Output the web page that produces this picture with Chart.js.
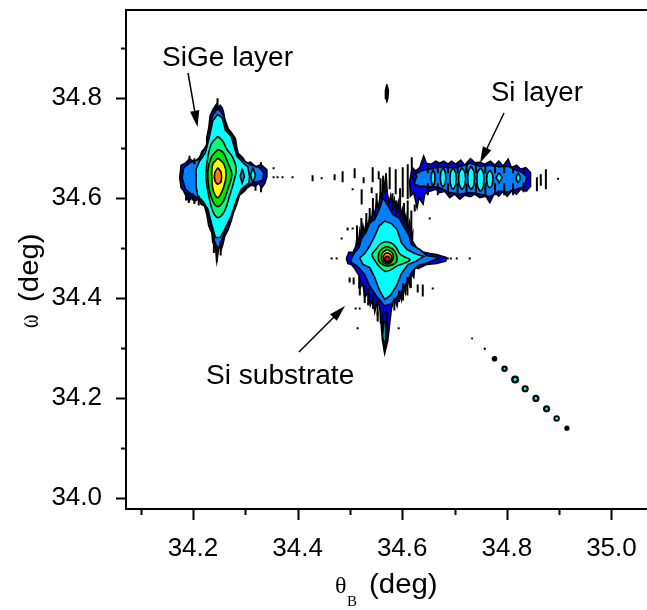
<!DOCTYPE html>
<html>
<head>
<meta charset="utf-8">
<title>SiGe map</title>
<script src="https://cdn.jsdelivr.net/npm/chart.js@4"></script>
<style>
    html, body { margin: 0; padding: 0; background: #fff; }
    canvas { display: block; }
</style>
</head>
<body>
<canvas id="mapChart" width="647" height="610"></canvas>
<script>
// Tick values
const xMajor = [34.2, 34.4, 34.6, 34.8, 35.0];
const xMinor = [34.1, 34.3, 34.5, 34.7, 34.9];
const yMajor = [34.0, 34.2, 34.4, 34.6, 34.8];
const yMinor = [34.1, 34.3, 34.5, 34.7, 34.9];

// SiGe peak contours, outer level first, [theta, omega]
const sigeOuter = [[34.2462,34.790],[34.2481,34.779],[34.2520,34.786],[34.2558,34.781],[34.2583,34.773],[34.2609,34.758],[34.2647,34.747],[34.2673,34.739],[34.2737,34.731],[34.2813,34.719],[34.2839,34.701],[34.2864,34.690],[34.2953,34.681],[34.3017,34.670],[34.3100,34.672],[34.3196,34.663],[34.3304,34.667],[34.3400,34.658],[34.3413,34.643],[34.3375,34.630],[34.3311,34.620],[34.3260,34.630],[34.3196,34.624],[34.3113,34.626],[34.3030,34.620],[34.2985,34.614],[34.2890,34.606],[34.2839,34.588],[34.2775,34.571],[34.2730,34.554],[34.2673,34.537],[34.2609,34.524],[34.2571,34.507],[34.2539,34.497],[34.2500,34.504],[34.2456,34.474],[34.2430,34.504],[34.2379,34.511],[34.2360,34.531],[34.2303,34.544],[34.2264,34.568],[34.2220,34.584],[34.2156,34.588],[34.2111,34.598],[34.2028,34.594],[34.1996,34.603],[34.1920,34.594],[34.1869,34.604],[34.1824,34.614],[34.1773,34.621],[34.1748,34.641],[34.1773,34.666],[34.1856,34.670],[34.1933,34.679],[34.2028,34.672],[34.2124,34.681],[34.2175,34.694],[34.2252,34.703],[34.2264,34.721],[34.2303,34.741],[34.2328,34.765],[34.2379,34.777]];
const sigeBlue = [[34.2475,34.781],[34.2583,34.765],[34.2647,34.738],[34.2762,34.724],[34.2800,34.704],[34.2839,34.688],[34.2985,34.674],[34.3113,34.666],[34.3272,34.661],[34.3349,34.651],[34.3336,34.636],[34.3145,34.631],[34.3017,34.624],[34.2890,34.611],[34.2794,34.584],[34.2698,34.558],[34.2603,34.531],[34.2520,34.507],[34.2475,34.497],[34.2411,34.514],[34.2367,34.537],[34.2303,34.561],[34.2252,34.584],[34.2124,34.598],[34.1965,34.608],[34.1856,34.618],[34.1792,34.641],[34.1824,34.661],[34.1965,34.672],[34.2124,34.678],[34.2220,34.698],[34.2303,34.718],[34.2354,34.758],[34.2411,34.773]];
const sigeCyan = [[34.2475,34.768],[34.2558,34.761],[34.2622,34.736],[34.2730,34.724],[34.2794,34.701],[34.2839,34.684],[34.2985,34.668],[34.3049,34.663],[34.3081,34.643],[34.3068,34.630],[34.2922,34.618],[34.2839,34.598],[34.2730,34.564],[34.2603,34.537],[34.2520,34.521],[34.2430,34.521],[34.2367,34.544],[34.2284,34.578],[34.2188,34.594],[34.2092,34.604],[34.2060,34.624],[34.2060,34.658],[34.2124,34.674],[34.2239,34.691],[34.2316,34.724],[34.2379,34.755]];
const sigeSpring = [[34.2475,34.724],[34.2571,34.714],[34.2647,34.698],[34.2762,34.681],[34.2826,34.658],[34.2775,34.631],[34.2698,34.604],[34.2603,34.574],[34.2475,34.561],[34.2379,34.574],[34.2303,34.604],[34.2252,34.638],[34.2264,34.668],[34.2347,34.708]];
const sigeGreen = [[34.2475,34.698],[34.2583,34.691],[34.2667,34.671],[34.2743,34.648],[34.2667,34.618],[34.2583,34.594],[34.2475,34.583],[34.2379,34.594],[34.2303,34.621],[34.2284,34.654],[34.2347,34.681]];
const sigeYellow = [[34.2475,34.680],[34.2583,34.670],[34.2635,34.648],[34.2583,34.621],[34.2475,34.601],[34.2392,34.614],[34.2360,34.644],[34.2379,34.668]];
const sigeOrange = [[34.2475,34.661],[34.2539,34.651],[34.2539,34.634],[34.2475,34.628],[34.2418,34.636],[34.2418,34.651]];
const sigeIslandBlue = [[34.2941,34.659],[34.2985,34.644],[34.2941,34.630],[34.2903,34.644]];
const sigeIslandCyan = [[34.3145,34.661],[34.3196,34.646],[34.3145,34.631],[34.3100,34.646]];

// Si substrate peak contours
const subOuter = [[34.4932,34.479],[34.4983,34.492],[34.5060,34.491],[34.5111,34.503],[34.5136,34.520],[34.5160,34.510],[34.5190,34.535],[34.5219,34.520],[34.5250,34.545],[34.5280,34.530],[34.5315,34.555],[34.5345,34.540],[34.5379,34.565],[34.5410,34.552],[34.5440,34.580],[34.5475,34.565],[34.5510,34.595],[34.5545,34.580],[34.5585,34.610],[34.5610,34.595],[34.5634,34.645],[34.5655,34.610],[34.5690,34.650],[34.5715,34.610],[34.5750,34.590],[34.5780,34.605],[34.5815,34.582],[34.5850,34.598],[34.5885,34.572],[34.5925,34.592],[34.5960,34.562],[34.6000,34.578],[34.6035,34.548],[34.6070,34.565],[34.6105,34.535],[34.6140,34.552],[34.6175,34.522],[34.6200,34.530],[34.6195,34.514],[34.6285,34.499],[34.6400,34.492],[34.6527,34.489],[34.6655,34.487],[34.6846,34.481],[34.6833,34.474],[34.6655,34.469],[34.6464,34.467],[34.6304,34.459],[34.6240,34.463],[34.6221,34.441],[34.6165,34.450],[34.6144,34.425],[34.6100,34.440],[34.6060,34.410],[34.6017,34.425],[34.5985,34.396],[34.5940,34.412],[34.5902,34.384],[34.5850,34.400],[34.5794,34.378],[34.5762,34.350],[34.5723,34.314],[34.5666,34.289],[34.5621,34.317],[34.5596,34.350],[34.5570,34.382],[34.5530,34.395],[34.5475,34.372],[34.5443,34.400],[34.5390,34.385],[34.5350,34.412],[34.5283,34.400],[34.5250,34.428],[34.5190,34.420],[34.5175,34.445],[34.5092,34.459],[34.5028,34.467],[34.4964,34.469]];
const subBlue = [[34.5028,34.479],[34.5092,34.491],[34.5175,34.501],[34.5219,34.518],[34.5315,34.533],[34.5379,34.550],[34.5475,34.557],[34.5570,34.580],[34.5634,34.601],[34.5730,34.584],[34.5825,34.567],[34.5940,34.560],[34.6049,34.540],[34.6132,34.525],[34.6176,34.507],[34.6336,34.497],[34.6464,34.485],[34.6719,34.481],[34.6495,34.471],[34.6304,34.465],[34.6176,34.451],[34.6093,34.432],[34.5953,34.408],[34.5794,34.389],[34.5666,34.384],[34.5506,34.404],[34.5379,34.424],[34.5283,34.447],[34.5136,34.464],[34.5028,34.471]];
const subCyan = [[34.5187,34.480],[34.5283,34.489],[34.5379,34.504],[34.5475,34.524],[34.5557,34.544],[34.5666,34.554],[34.5794,34.549],[34.5902,34.537],[34.5985,34.511],[34.6093,34.497],[34.6240,34.489],[34.6412,34.483],[34.6272,34.474],[34.6113,34.467],[34.5985,34.449],[34.5889,34.424],[34.5774,34.405],[34.5666,34.397],[34.5570,34.414],[34.5475,34.441],[34.5379,34.461],[34.5251,34.467]];
const subSpring = [[34.5698,34.5133],[34.5806,34.5093],[34.5889,34.5006],[34.5953,34.4886],[34.6049,34.4819],[34.6151,34.4766],[34.6049,34.4699],[34.5921,34.4652],[34.5794,34.4570],[34.5679,34.4530],[34.5570,34.4620],[34.5475,34.4753],[34.5423,34.4866],[34.5506,34.4986],[34.5589,34.5087]];
const subGreen = [[34.5711,34.5033],[34.5825,34.4973],[34.5889,34.4866],[34.5889,34.4719],[34.5781,34.4652],[34.5666,34.4652],[34.5557,34.4733],[34.5551,34.4886],[34.5615,34.4986]];
const subYellow = [[34.5717,34.4973],[34.5806,34.4906],[34.5832,34.4819],[34.5794,34.4719],[34.5704,34.4679],[34.5621,34.4733],[34.5602,34.4839],[34.5640,34.4920]];
const subOrange = [[34.5717,34.4906],[34.5781,34.4866],[34.5806,34.4799],[34.5768,34.4733],[34.5711,34.4706],[34.5653,34.4746],[34.5634,34.4819],[34.5666,34.4880]];
const subRed = [[34.5717,34.4839],[34.5762,34.4799],[34.5749,34.4746],[34.5711,34.4733],[34.5672,34.4759],[34.5672,34.4806]];
const neckBlue = [[34.5640,34.372],[34.5700,34.372],[34.5715,34.330],[34.5660,34.296],[34.5625,34.330]];
const neckCyan = [[34.5647,34.354],[34.5685,34.350],[34.5679,34.317],[34.5653,34.304],[34.5628,34.324]];

// Si layer band
const bandOuter = [[34.6143,34.634],[34.6194,34.661],[34.6258,34.654],[34.6335,34.661],[34.6411,34.684],[34.6462,34.670],[34.6558,34.668],[34.6641,34.674],[34.6718,34.670],[34.6794,34.674],[34.6877,34.668],[34.6941,34.674],[34.7024,34.668],[34.7120,34.676],[34.7196,34.666],[34.7305,34.679],[34.7388,34.671],[34.7483,34.672],[34.7579,34.668],[34.7687,34.674],[34.7770,34.666],[34.7847,34.674],[34.7930,34.664],[34.8026,34.678],[34.8089,34.661],[34.8185,34.666],[34.8262,34.658],[34.8364,34.661],[34.8453,34.651],[34.8453,34.624],[34.8376,34.614],[34.8262,34.618],[34.8185,34.608],[34.8089,34.614],[34.8006,34.604],[34.7930,34.614],[34.7847,34.604],[34.7770,34.611],[34.7675,34.591],[34.7598,34.604],[34.7483,34.601],[34.7388,34.608],[34.7305,34.603],[34.7196,34.606],[34.7100,34.598],[34.7005,34.608],[34.6909,34.601],[34.6813,34.614],[34.6718,34.611],[34.6641,34.618],[34.6526,34.614],[34.6431,34.608],[34.6399,34.588],[34.6322,34.601],[34.6284,34.581],[34.6220,34.611],[34.6156,34.604]];
const bandBlue = [[34.6239,34.648],[34.6399,34.656],[34.6558,34.659],[34.6718,34.663],[34.6877,34.661],[34.7037,34.661],[34.7305,34.670],[34.7483,34.664],[34.7687,34.666],[34.7847,34.663],[34.8026,34.664],[34.8185,34.656],[34.8313,34.651],[34.8376,34.641],[34.8345,34.624],[34.8185,34.618],[34.8006,34.612],[34.7847,34.614],[34.7675,34.603],[34.7483,34.608],[34.7305,34.611],[34.7100,34.608],[34.6909,34.611],[34.6718,34.621],[34.6526,34.623],[34.6335,34.624],[34.6239,34.628]];
const bandCyan1 = [[34.6590,34.657],[34.6622,34.648],[34.6622,34.634],[34.6590,34.625],[34.6558,34.634],[34.6558,34.648]];
const bandCyan2 = [[34.6781,34.661],[34.6826,34.651],[34.6826,34.631],[34.6781,34.623],[34.6737,34.631],[34.6737,34.651]];
const bandCyan3 = [[34.6973,34.661],[34.7024,34.650],[34.7024,34.628],[34.6973,34.618],[34.6922,34.628],[34.6922,34.650]];
const bandCyan4 = [[34.7145,34.661],[34.7202,34.650],[34.7202,34.628],[34.7145,34.618],[34.7088,34.628],[34.7088,34.650]];
const bandCyan5 = [[34.7317,34.664],[34.7375,34.652],[34.7375,34.628],[34.7317,34.618],[34.7260,34.628],[34.7260,34.652]];
const bandCyan6 = [[34.7496,34.661],[34.7553,34.651],[34.7553,34.624],[34.7496,34.614],[34.7439,34.624],[34.7439,34.651]];
const bandCyan7 = [[34.7675,34.656],[34.7726,34.648],[34.7726,34.628],[34.7675,34.621],[34.7624,34.628],[34.7624,34.648]];
const bandCyan8 = [[34.7853,34.651],[34.7911,34.641],[34.7853,34.631],[34.7796,34.641]];
const bandCyan9 = [[34.8217,34.651],[34.8255,34.641],[34.8217,34.631],[34.8179,34.641]];
const bandRing = [[34.6240,34.652],[34.6280,34.643],[34.6240,34.634],[34.6200,34.643]];

// Small spot above the substrate peak
const spotOuter = [[34.5707,34.828],[34.5736,34.815],[34.5725,34.800],[34.5707,34.794],[34.5690,34.800],[34.5680,34.815]];
const spotBlue = [[34.5707,34.820],[34.5718,34.812],[34.5707,34.802],[34.5696,34.812]];

// Streak in the lower right
const streakX = [34.7336, 34.7579, 34.7765, 34.7956, 34.8159, 34.8351, 34.8556, 34.8760, 34.8952, 34.9149];
const streakY = [34.3188, 34.2981, 34.2781, 34.2580, 34.2366, 34.2180, 34.1985, 34.1778, 34.1584, 34.1389];

// Isolated contour scraps: theta, omega from, omega to
const scraps = [
    [34.3541,34.662,34.658],[34.3541,34.644,34.640],[34.3617,34.644,34.640],[34.3713,34.644,34.640],[34.3904,34.644,34.640],
    [34.4287,34.646,34.634],[34.4460,34.642,34.638],[34.4708,34.648,34.636],[34.4861,34.654,34.632],[34.5091,34.660,34.640],
    [34.5263,34.642,34.630],[34.5436,34.662,34.632],[34.5551,34.654,34.638],[34.5225,34.618,34.587],[34.5417,34.622,34.610],
    [34.5053,34.620,34.616],[34.4957,34.541,34.535],[34.5053,34.541,34.537],[34.4842,34.521,34.517],[34.4651,34.481,34.477],
    [34.4747,34.481,34.477],[34.4995,34.441,34.431],[34.5072,34.441,34.427],[34.5187,34.381,34.377],[34.5110,34.381,34.377],
    [34.5148,34.341,34.337],[34.5933,34.341,34.337],[34.5531,34.373,34.353],[34.5589,34.365,34.349],[34.6297,34.427,34.411],
    [34.6393,34.427,34.403],[34.6584,34.421,34.417],[34.6871,34.481,34.477],[34.6929,34.481,34.477],[34.7043,34.481,34.477],
    [34.7292,34.481,34.477],[34.6527,34.561,34.557],[34.6240,34.587,34.573],[34.6297,34.618,34.598],[34.6106,34.668,34.598],
    [34.5876,34.658,34.608],[34.5761,34.662,34.618],[34.6010,34.662,34.602],[34.6183,34.682,34.608],[34.8575,34.642,34.614],
    [34.8747,34.658,34.618],[34.8977,34.641,34.637],[34.8650,34.648,34.625]
];

// Black spikes along the noisy outer contours
const subSpikes = [
    [34.5136,34.545,34.505],[34.5219,34.560,34.525],[34.5315,34.570,34.535],[34.5379,34.580,34.550],[34.5440,34.600,34.565],
    [34.5510,34.610,34.580],[34.5585,34.640,34.600],[34.5815,34.610,34.575],[34.5885,34.595,34.565],[34.5960,34.620,34.560],
    [34.6035,34.590,34.540],[34.6105,34.595,34.530],[34.6175,34.575,34.520],[34.5190,34.440,34.405],[34.5283,34.425,34.390],
    [34.5350,34.420,34.385],[34.5443,34.410,34.378],[34.5530,34.395,34.365],[34.5850,34.400,34.375],[34.5940,34.415,34.392],
    [34.6017,34.430,34.395],[34.6100,34.442,34.405],[34.6165,34.450,34.420]
];
const sigeSpikes = [
    [34.2400,34.520,34.490],[34.2456,34.505,34.472],[34.2530,34.515,34.485],[34.2110,34.605,34.585],[34.1920,34.610,34.590],
    [34.1996,34.610,34.595],[34.2028,34.605,34.588],[34.1869,34.612,34.595],[34.2470,34.800,34.775],[34.2430,34.785,34.770],
    [34.1933,34.685,34.672],[34.2028,34.680,34.668],[34.3300,34.672,34.660],[34.3300,34.625,34.612],[34.3196,34.630,34.615]
];
const bandRibs = [
    [34.6490,34.668,34.650],[34.6680,34.668,34.650],[34.6875,34.668,34.650],[34.7060,34.668,34.650],[34.7230,34.668,34.650],
    [34.7410,34.668,34.650],[34.7590,34.668,34.650],[34.7775,34.668,34.650],[34.7950,34.668,34.650],[34.8120,34.664,34.650],
    [34.8320,34.660,34.648],[34.6490,34.630,34.606],[34.6680,34.630,34.606],[34.6875,34.630,34.606],[34.7060,34.630,34.606],
    [34.7230,34.630,34.606],[34.7410,34.630,34.606],[34.7590,34.630,34.606],[34.7775,34.630,34.606],[34.7950,34.630,34.606],
    [34.8120,34.630,34.606],[34.8320,34.632,34.612]
];

const BLUE = '#0000e8', MID = '#0080ff', CYAN = '#00ffff', SPRING = '#00ff80';
const GREEN = '#00e600', YELLOW = '#ffff00', ORANGE = '#ff8000', RED = '#ff0000';

// bottom layer first
const contours = [
    [sigeOuter, BLUE, 0], [sigeBlue, MID, 0], [sigeCyan, CYAN, 0], [sigeIslandBlue, MID, 0], [sigeIslandCyan, CYAN, 0],
    [sigeSpring, SPRING, 0.35], [sigeGreen, GREEN, 0.35], [sigeYellow, YELLOW, 0.35], [sigeOrange, ORANGE, 0.35],
    [bandOuter, BLUE, 0], [bandBlue, MID, 0], [bandRing, BLUE, 0],
    [bandCyan1, CYAN, 0.3], [bandCyan2, CYAN, 0.3], [bandCyan3, CYAN, 0.3], [bandCyan4, CYAN, 0.3], [bandCyan5, CYAN, 0.3],
    [bandCyan6, CYAN, 0.3], [bandCyan7, CYAN, 0.3], [bandCyan8, CYAN, 0], [bandCyan9, CYAN, 0.3],
    [subOuter, BLUE, 0], [subBlue, MID, 0], [subCyan, CYAN, 0], [neckBlue, BLUE, 0], [neckCyan, CYAN, 0],
    [subSpring, SPRING, 0.3], [subGreen, GREEN, 0.35], [subYellow, YELLOW, 0.35], [subOrange, ORANGE, 0.35], [subRed, RED, 0.35],
    [spotOuter, BLUE, 0], [spotBlue, MID, 0]
];

function contourSet(item) {
    const pts = item[0].concat([item[0][0]]);
    return {
        data: pts.map(p => ({ x: p[0], y: p[1] })),
        showLine: true,
        fill: 'shape',
        backgroundColor: item[1],
        borderColor: '#000',
        borderWidth: 1.6,
        tension: item[2],
        pointRadius: 0
    };
}

// each scrap is a short vertical stroke, nulls break the line
function strokeSet(list, width) {
    const pts = [];
    list.forEach(s => {
        pts.push({ x: s[0], y: s[1] }, { x: s[0], y: s[2] }, { x: null, y: null });
    });
    return { data: pts, showLine: true, spanGaps: false, borderColor: '#000', borderWidth: width, pointRadius: 0 };
}

const streakPoints = streakX.map((v, i) => ({ x: v, y: streakY[i] }));

// chart draws the first dataset on top
const datasets = contours.map(contourSet).reverse();
datasets.unshift({
    data: streakPoints.slice(3, 9),
    pointRadius: [1, 1.6, 1.4, 1.4, 1.4, 1.4],
    pointBackgroundColor: CYAN,
    pointBorderWidth: 0
}, {
    data: streakPoints,
    pointRadius: [1, 1.2, 2.8, 3.2, 4, 3.6, 3.6, 3.6, 3.2, 2.6],
    pointBackgroundColor: '#000',
    pointBorderWidth: 0
});
datasets.splice(2, 0, strokeSet(subSpikes, 2), strokeSet(sigeSpikes, 2), strokeSet(bandRibs, 2));
datasets.push(strokeSet(scraps, 2));

const sansFont = '"Liberation Sans", Arial, sans-serif';
const serifFont = '"Liberation Serif", "Times New Roman", serif';

function stretchedText(ctx, text, x, y, font, stretch) {
    ctx.save();
    ctx.translate(x, y);
    ctx.scale(stretch, 1);
    ctx.font = font;
    ctx.fillStyle = '#000';
    ctx.textAlign = 'left';
    ctx.textBaseline = 'alphabetic';
    ctx.fillText(text, 0, 0);
    ctx.restore();
}

function arrow(ctx, x0, y0, x1, y1) {
    const a = Math.atan2(y1 - y0, x1 - x0);
    ctx.save();
    ctx.strokeStyle = '#000';
    ctx.fillStyle = '#000';
    ctx.lineWidth = 1.5;
    ctx.beginPath();
    ctx.moveTo(x0, y0);
    ctx.lineTo(x1 - 10 * Math.cos(a), y1 - 10 * Math.sin(a));
    ctx.stroke();
    ctx.beginPath();
    ctx.moveTo(x1, y1);
    ctx.lineTo(x1 - 17 * Math.cos(a - 0.28), y1 - 17 * Math.sin(a - 0.28));
    ctx.lineTo(x1 - 17 * Math.cos(a + 0.28), y1 - 17 * Math.sin(a + 0.28));
    ctx.closePath();
    ctx.fill();
    ctx.restore();
}

// top line, major and minor ticks, notes and the mixed font axis titles
const decorations = {
    id: 'decorations',
    afterDraw(chart) {
        const ctx = chart.ctx;
        const area = chart.chartArea;
        const xs = chart.scales.x;
        const ys = chart.scales.y;

        ctx.save();
        ctx.strokeStyle = '#000';
        ctx.lineWidth = 2;
        ctx.beginPath();
        ctx.moveTo(area.left - 1, area.top);
        ctx.lineTo(area.right, area.top);
        xMajor.concat(xMinor).forEach(v => {
            const px = Math.round(xs.getPixelForValue(v)) + 0.5;
            ctx.moveTo(px, area.bottom);
            ctx.lineTo(px, area.bottom + (xMajor.includes(v) ? 11 : 6));
        });
        yMajor.concat(yMinor).forEach(v => {
            const py = Math.round(ys.getPixelForValue(v)) + 0.5;
            ctx.moveTo(area.left, py);
            ctx.lineTo(area.left - (yMajor.includes(v) ? 10 : 5), py);
        });
        ctx.stroke();
        ctx.restore();

        stretchedText(ctx, 'SiGe layer', 162, 66, '27px ' + sansFont, 1.04);
        stretchedText(ctx, 'Si layer', 491, 101, '27px ' + sansFont, 1.02);
        stretchedText(ctx, 'Si substrate', 206, 384, '27px ' + sansFont, 1.04);
        arrow(ctx, 188, 73, 197.5, 127);
        arrow(ctx, 504, 113, 480, 163);
        arrow(ctx, 299, 352, 345, 306);

        stretchedText(ctx, '\u03B8', 335, 593, '24px ' + serifFont, 1);
        stretchedText(ctx, 'B', 347, 606, '15px ' + serifFont, 1);
        stretchedText(ctx, '(deg)', 369, 593, '28px ' + sansFont, 1.05);

        ctx.save();
        ctx.translate(37.5, 328);
        ctx.rotate(-Math.PI / 2);
        stretchedText(ctx, '\u03C9', 0, 0, '30px ' + serifFont, 0.68);
        stretchedText(ctx, '(deg)', 26, 0, '28px ' + sansFont, 1.05);
        ctx.restore();
    }
};

const tickFont = { family: sansFont, size: 26 };

// keep tick labels from pushing the plot area in
function noMargins(s) {
    s.paddingTop = 0;
    s.paddingBottom = 0;
    s.paddingLeft = 0;
    s.paddingRight = 0;
}

new Chart(document.getElementById('mapChart'), {
    type: 'scatter',
    data: { datasets: datasets },
    plugins: [decorations],
    options: {
        responsive: false,
        animation: false,
        layout: { autoPadding: false, padding: { top: 10, right: 0, left: 0, bottom: 0 } },
        plugins: { legend: { display: false }, tooltip: { enabled: false } },
        scales: {
            x: {
                min: 34.072,
                max: 35.068,
                grid: { display: false },
                border: { color: '#000', width: 2 },
                afterBuildTicks: s => { s.ticks = xMajor.map(v => ({ value: v })); },
                afterFit: s => { s.height = 101; noMargins(s); },
                ticks: {
                    autoSkip: false, maxRotation: 0, padding: 16, color: '#000', font: tickFont,
                    callback: v => v.toFixed(1)
                }
            },
            y: {
                min: 33.977,
                max: 34.977,
                grid: { display: false },
                border: { color: '#000', width: 2 },
                afterBuildTicks: s => { s.ticks = yMajor.map(v => ({ value: v })); },
                afterFit: s => { s.width = 126; noMargins(s); },
                ticks: {
                    autoSkip: false, padding: 16, color: '#000', font: tickFont,
                    callback: v => v.toFixed(1)
                }
            }
        }
    }
});
</script>
</body>
</html>
